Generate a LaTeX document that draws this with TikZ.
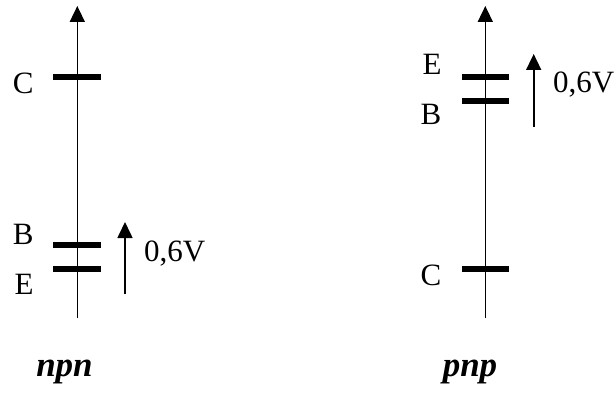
\documentclass[tikz,border=0pt]{standalone}
\usepackage{fontspec}
\setmainfont{Liberation Serif}
\usetikzlibrary{arrows.meta}
\begin{document}
\begin{tikzpicture}[x=1pt,y=-1pt,
  axisline/.style={line width=1.6pt,-{Triangle[width=15pt,length=16pt]}},
  vline/.style={line width=1.6pt,-{Triangle[width=15pt,length=16pt]}},
  level/.style={line width=6pt},
  lbl/.style={font=\fontsize{31}{31}\selectfont,inner sep=0pt,anchor=base},
  vlbl/.style={font=\fontsize{31}{31}\selectfont,inner sep=0pt,anchor=base west},
  title/.style={font=\fontsize{35}{35}\selectfont\bfseries\itshape,inner sep=0pt,anchor=base}]
\useasboundingbox (0,0) rectangle (614,396);
% npn
\coordinate (a1) at (77.3,318);
\coordinate (a2) at (77.3,6);
\draw[axisline] (a1) -- (a2);
\coordinate (cl) at (53,77); \coordinate (cr) at (101,77);
\coordinate (bl) at (53,245); \coordinate (br) at (101,245);
\coordinate (el) at (53,269); \coordinate (er) at (101,269);
\draw[level] (cl) -- (cr);
\draw[level] (bl) -- (br);
\draw[level] (el) -- (er);
\node[lbl] (C1) at (23.3,93.3) {C};
\node[lbl] (B1) at (23.3,244.3) {B};
\node[lbl] (E1) at (24,294.3) {E};
\coordinate (v1a) at (125,294);
\coordinate (v1b) at (125,222);
\draw[vline] (v1a) -- (v1b);
\node[vlbl] (V1) at (144,261.7) {0,6V};
\node[title] (T1) at (64.5,376) {npn};
% pnp
\coordinate (p1) at (485.3,318);
\coordinate (p2) at (485.3,6);
\draw[axisline] (p1) -- (p2);
\coordinate (el2) at (462,77); \coordinate (er2) at (509,77);
\coordinate (bl2) at (462,101); \coordinate (br2) at (509,101);
\coordinate (cl2) at (462,269); \coordinate (cr2) at (509,269);
\draw[level] (el2) -- (er2);
\draw[level] (bl2) -- (br2);
\draw[level] (cl2) -- (cr2);
\node[lbl] (E2) at (432,75) {E};
\node[lbl] (B2) at (431,124.5) {B};
\node[lbl] (C2) at (431,285.5) {C};
\coordinate (v2a) at (533.7,127);
\coordinate (v2b) at (533.7,54);
\draw[vline] (v2a) -- (v2b);
\node[vlbl] (V2) at (553,93) {0,6V};
\node[title] (T2) at (470,376) {pnp};
\end{tikzpicture}
\end{document}
